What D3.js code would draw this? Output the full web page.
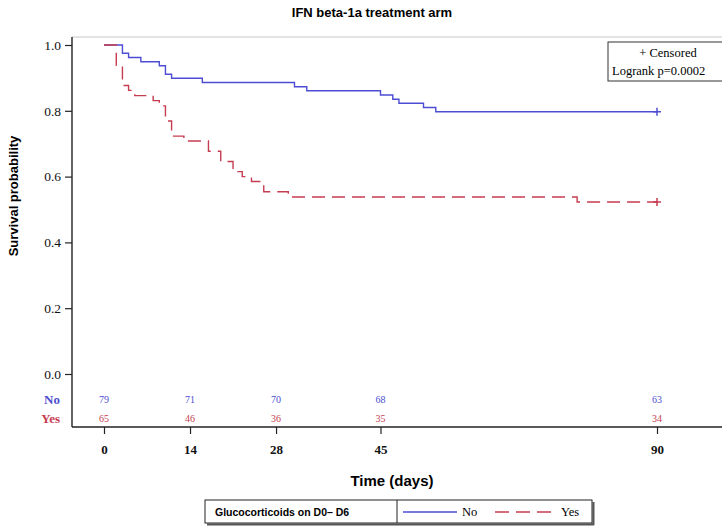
<!DOCTYPE html>
<html>
<head>
<meta charset="utf-8">
<script src="https://cdn.jsdelivr.net/npm/d3@7"></script>
<style>
  body { margin: 0; background: #fff; }
  svg { display: block; }
</style>
</head>
<body>
<script>
// step data (days, survival probability)
var timeNo = [0, 3, 4, 6, 9, 10, 11, 16, 31, 33, 45, 47, 48, 52, 54];
var survNo = [1, 0.975, 0.962, 0.949, 0.937, 0.911, 0.899, 0.886, 0.873, 0.861, 0.848, 0.835, 0.823, 0.810, 0.797];
var timeYes = [0, 2, 3, 4, 5, 8, 9, 10, 11, 13, 17, 19, 21, 22.5, 24, 26, 30, 77];
var survYes = [1, 0.938, 0.877, 0.862, 0.846, 0.831, 0.815, 0.769, 0.723, 0.708, 0.677, 0.646, 0.615, 0.600, 0.585, 0.554, 0.538, 0.523];
var lastDay = 90;

var xTicks = [0, 14, 28, 45, 90];
var yTicks = [0, 0.2, 0.4, 0.6, 0.8, 1.0];
var riskNo = [79, 71, 70, 68, 63];
var riskYes = [65, 46, 36, 35, 34];

var blue = "#4d4dd2", red = "#c63c50";
var serif = "'Liberation Serif', 'Times New Roman', serif";
var sans = "'Liberation Sans', Arial, sans-serif";

var svg = d3.select("body").append("svg")
            .attr("width", 722)
            .attr("height", 527);

var x = d3.scaleLinear().domain([0, 90]).range([104, 657]);
var y = d3.scaleLinear().domain([0, 1]).range([374, 45]);

// title
svg.append("text")
   .attr("x", 372).attr("y", 17)
   .attr("text-anchor", "middle")
   .style("font-family", sans).style("font-weight", "bold").style("font-size", "13px")
   .text("IFN beta-1a treatment arm");

// frame
svg.append("line").attr("x1", 72).attr("x2", 722).attr("y1", 37).attr("y2", 37)
   .attr("stroke", "#c8c8c8");
svg.append("line").attr("x1", 72).attr("x2", 72).attr("y1", 37).attr("y2", 427)
   .attr("stroke", "#222").attr("stroke-width", 1.4);
svg.append("line").attr("x1", 72).attr("x2", 722).attr("y1", 427).attr("y2", 427)
   .attr("stroke", "#222").attr("stroke-width", 1.4);

// y axis
var yAxis = svg.append("g")
               .attr("transform", "translate(72,0)")
               .call(d3.axisLeft(y).tickValues(yTicks).tickFormat(d3.format(".1f")).tickSize(7).tickPadding(4));
yAxis.select(".domain").remove();
yAxis.selectAll("text").style("font-family", serif).style("font-size", "13.5px").attr("fill", "#111");
yAxis.selectAll("line").attr("stroke", "#222").attr("stroke-width", 1.2);

// x axis
var xAxis = svg.append("g")
               .attr("transform", "translate(0,427)")
               .call(d3.axisBottom(x).tickValues(xTicks).tickSize(7).tickPadding(11));
xAxis.select(".domain").remove();
xAxis.selectAll("text").style("font-family", serif).style("font-size", "13px")
     .style("font-weight", "bold").attr("fill", "#111");
xAxis.selectAll("line").attr("stroke", "#222").attr("stroke-width", 1.2);

// axis titles
svg.append("text")
   .attr("transform", "translate(18,196) rotate(-90)")
   .attr("text-anchor", "middle")
   .style("font-family", sans).style("font-weight", "bold").style("font-size", "13px")
   .text("Survival probability");

svg.append("text")
   .attr("x", 392).attr("y", 486)
   .attr("text-anchor", "middle")
   .style("font-family", sans).style("font-weight", "bold").style("font-size", "15px")
   .text("Time (days)");

// survival curves
var stepLine = d3.line()
                 .x(function(d) { return x(d[0]); })
                 .y(function(d) { return y(d[1]); })
                 .curve(d3.curveStepAfter);

var makePoints = function(times, surv) {
  var pts = times.map(function(t, i) { return [t, surv[i]]; });
  pts.push([lastDay, surv[surv.length - 1]]);
  return pts;
};

var curves = [
  {pts: makePoints(timeNo, survNo), color: blue, dash: null},
  {pts: makePoints(timeYes, survYes), color: red, dash: "13,7"}
];

svg.selectAll("path.km")
   .data(curves)
   .enter()
   .append("path")
   .attr("class", "km")
   .attr("d", function(d) { return stepLine(d.pts); })
   .attr("fill", "none")
   .attr("stroke", function(d) { return d.color; })
   .attr("stroke-width", 1.4)
   .attr("stroke-dasharray", function(d) { return d.dash; });

// censor marks at the last day
svg.selectAll("path.censor")
   .data(curves)
   .enter()
   .append("path")
   .attr("class", "censor")
   .attr("d", function(d) {
     var cx = x(lastDay), cy = y(d.pts[d.pts.length - 1][1]);
     return "M" + (cx - 4) + "," + cy + "H" + (cx + 4) + "M" + cx + "," + (cy - 4) + "V" + (cy + 4);
   })
   .attr("stroke", function(d) { return d.color; })
   .attr("stroke-width", 1.5);

// censored / logrank box
svg.append("rect")
   .attr("x", 608).attr("y", 42).attr("width", 130).attr("height", 39)
   .attr("fill", "#fff").attr("stroke", "#333");
svg.append("text")
   .attr("x", 668).attr("y", 57)
   .attr("text-anchor", "middle")
   .style("font-family", serif).style("font-size", "12.5px")
   .text("+ Censored");
svg.append("text")
   .attr("x", 612).attr("y", 75)
   .style("font-family", serif).style("font-size", "12.5px")
   .text("Logrank p=0.0002");

// number at risk
var riskRows = [
  {label: "No", values: riskNo, color: blue, yy: 404},
  {label: "Yes", values: riskYes, color: red, yy: 423}
];

riskRows.forEach(function(row) {
  svg.append("text")
     .attr("x", 60).attr("y", row.yy)
     .attr("text-anchor", "end")
     .attr("fill", row.color)
     .style("font-family", serif).style("font-size", "13px").style("font-weight", "bold")
     .text(row.label);

  svg.selectAll(null)
     .data(row.values)
     .enter()
     .append("text")
     .attr("x", function(d, i) { return x(xTicks[i]); })
     .attr("y", row.yy - 1)
     .attr("text-anchor", "middle")
     .attr("fill", row.color)
     .style("font-family", serif).style("font-size", "10px")
     .text(function(d) { return d; });
});

// bottom legend
var lg = svg.append("g");
lg.append("line").attr("x1", 207).attr("x2", 594).attr("y1", 524.5).attr("y2", 524.5)
  .attr("stroke", "#555").attr("stroke-width", 2);
lg.append("line").attr("x1", 593.5).attr("x2", 593.5).attr("y1", 502).attr("y2", 525)
  .attr("stroke", "#555").attr("stroke-width", 2);
lg.append("rect")
  .attr("x", 205).attr("y", 500).attr("width", 387).attr("height", 23)
  .attr("fill", "#fff").attr("stroke", "#222");
lg.append("line").attr("x1", 397).attr("x2", 397).attr("y1", 500).attr("y2", 523)
  .attr("stroke", "#222");
lg.append("text")
  .attr("x", 215).attr("y", 515.5)
  .style("font-family", sans).style("font-weight", "bold").style("font-size", "10.5px")
  .text("Glucocorticoids on D0\u2013 D6");

var legendItems = [
  {label: "No", color: blue, dash: null, x0: 403, x1: 457, tx: 462},
  {label: "Yes", color: red, dash: "14,7", x0: 495, x1: 551, tx: 561}
];
legendItems.forEach(function(it) {
  lg.append("line")
    .attr("x1", it.x0).attr("x2", it.x1).attr("y1", 512).attr("y2", 512)
    .attr("stroke", it.color).attr("stroke-width", 1.4)
    .attr("stroke-dasharray", it.dash);
  lg.append("text")
    .attr("x", it.tx).attr("y", 516)
    .style("font-family", serif).style("font-size", "12.5px")
    .text(it.label);
});
</script>
</body>
</html>
